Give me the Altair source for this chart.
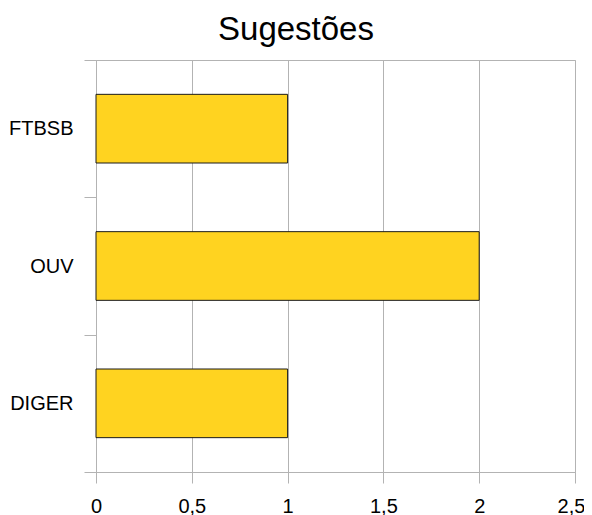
import altair as alt
import pandas as pd

categories = ["FTBSB", "OUV", "DIGER"]
values = [1, 2, 1]
x_ticks = [0, 0.5, 1, 1.5, 2, 2.5]

df = pd.DataFrame({"categoria": categories, "valor": values})

FONT = "Liberation Sans"
GRID = "#b3b3b3"

label_expr = " : ".join(
    f"datum.value == {i + 0.5} ? '{c}'" for i, c in enumerate(categories)
) + " : ''"

base = alt.Chart(df).transform_window(
    idx="row_number()"
).transform_calculate(
    lo="datum.idx - 1 + 0.25",
    hi="datum.idx - 0.25",
)

bars = base.mark_bar(color="#FFD320", stroke="#1a1a1a", strokeWidth=1).encode(
    x=alt.X(
        "valor:Q",
        scale=alt.Scale(domain=[0, 2.5], nice=False),
        axis=alt.Axis(
            values=x_ticks,
            title=None,
            grid=True,
            gridColor=GRID,
            domainColor=GRID,
            tickColor=GRID,
            tickSize=11,
            labelPadding=13,
            labelFontSize=20,
            labelFont=FONT,
            labelColor="black",
            labelFlush=False,
            labelOverlap=False,
            labelBound=False,
            labelOffset=alt.condition("datum.value == 2.5", alt.value(-4), alt.value(0)),
            labelExpr="replace(format(datum.value, '~g'), '.', ',')",
        ),
    ),
    x2=alt.value(0),
    y=alt.Y(
        "lo:Q",
        scale=alt.Scale(domain=[0, len(categories)], reverse=True, nice=False, zero=False),
        axis=alt.Axis(
            values=[i * 0.5 for i in range(2 * len(categories) + 1)],
            title=None,
            grid=False,
            domainColor=GRID,
            tickColor=alt.condition("datum.value % 1 == 0", alt.value(GRID), alt.value("transparent")),
            tickSize=12,
            labelPadding=11,
            labelFontSize=20,
            labelFont=FONT,
            labelColor="black",
            labelFlush=False,
            labelOverlap=False,
            labelExpr=label_expr,
        ),
    ),
    y2="hi:Q",
)

chart = bars.properties(
    width=479,
    height=412,
    title=alt.TitleParams(
        "Sugestões",
        fontSize=33,
        font=FONT,
        fontWeight="normal",
        color="black",
        anchor="middle",
        frame="group",
        offset=3,
        dx=-39.5,
    ),
    autosize=alt.AutoSizeParams(type="none"),
    padding={"left": 88, "top": 52, "right": 9, "bottom": 45},
).configure_view(stroke=GRID, strokeWidth=1)

chart.save("out.html", embed_options={"renderer": "svg", "actions": False})
